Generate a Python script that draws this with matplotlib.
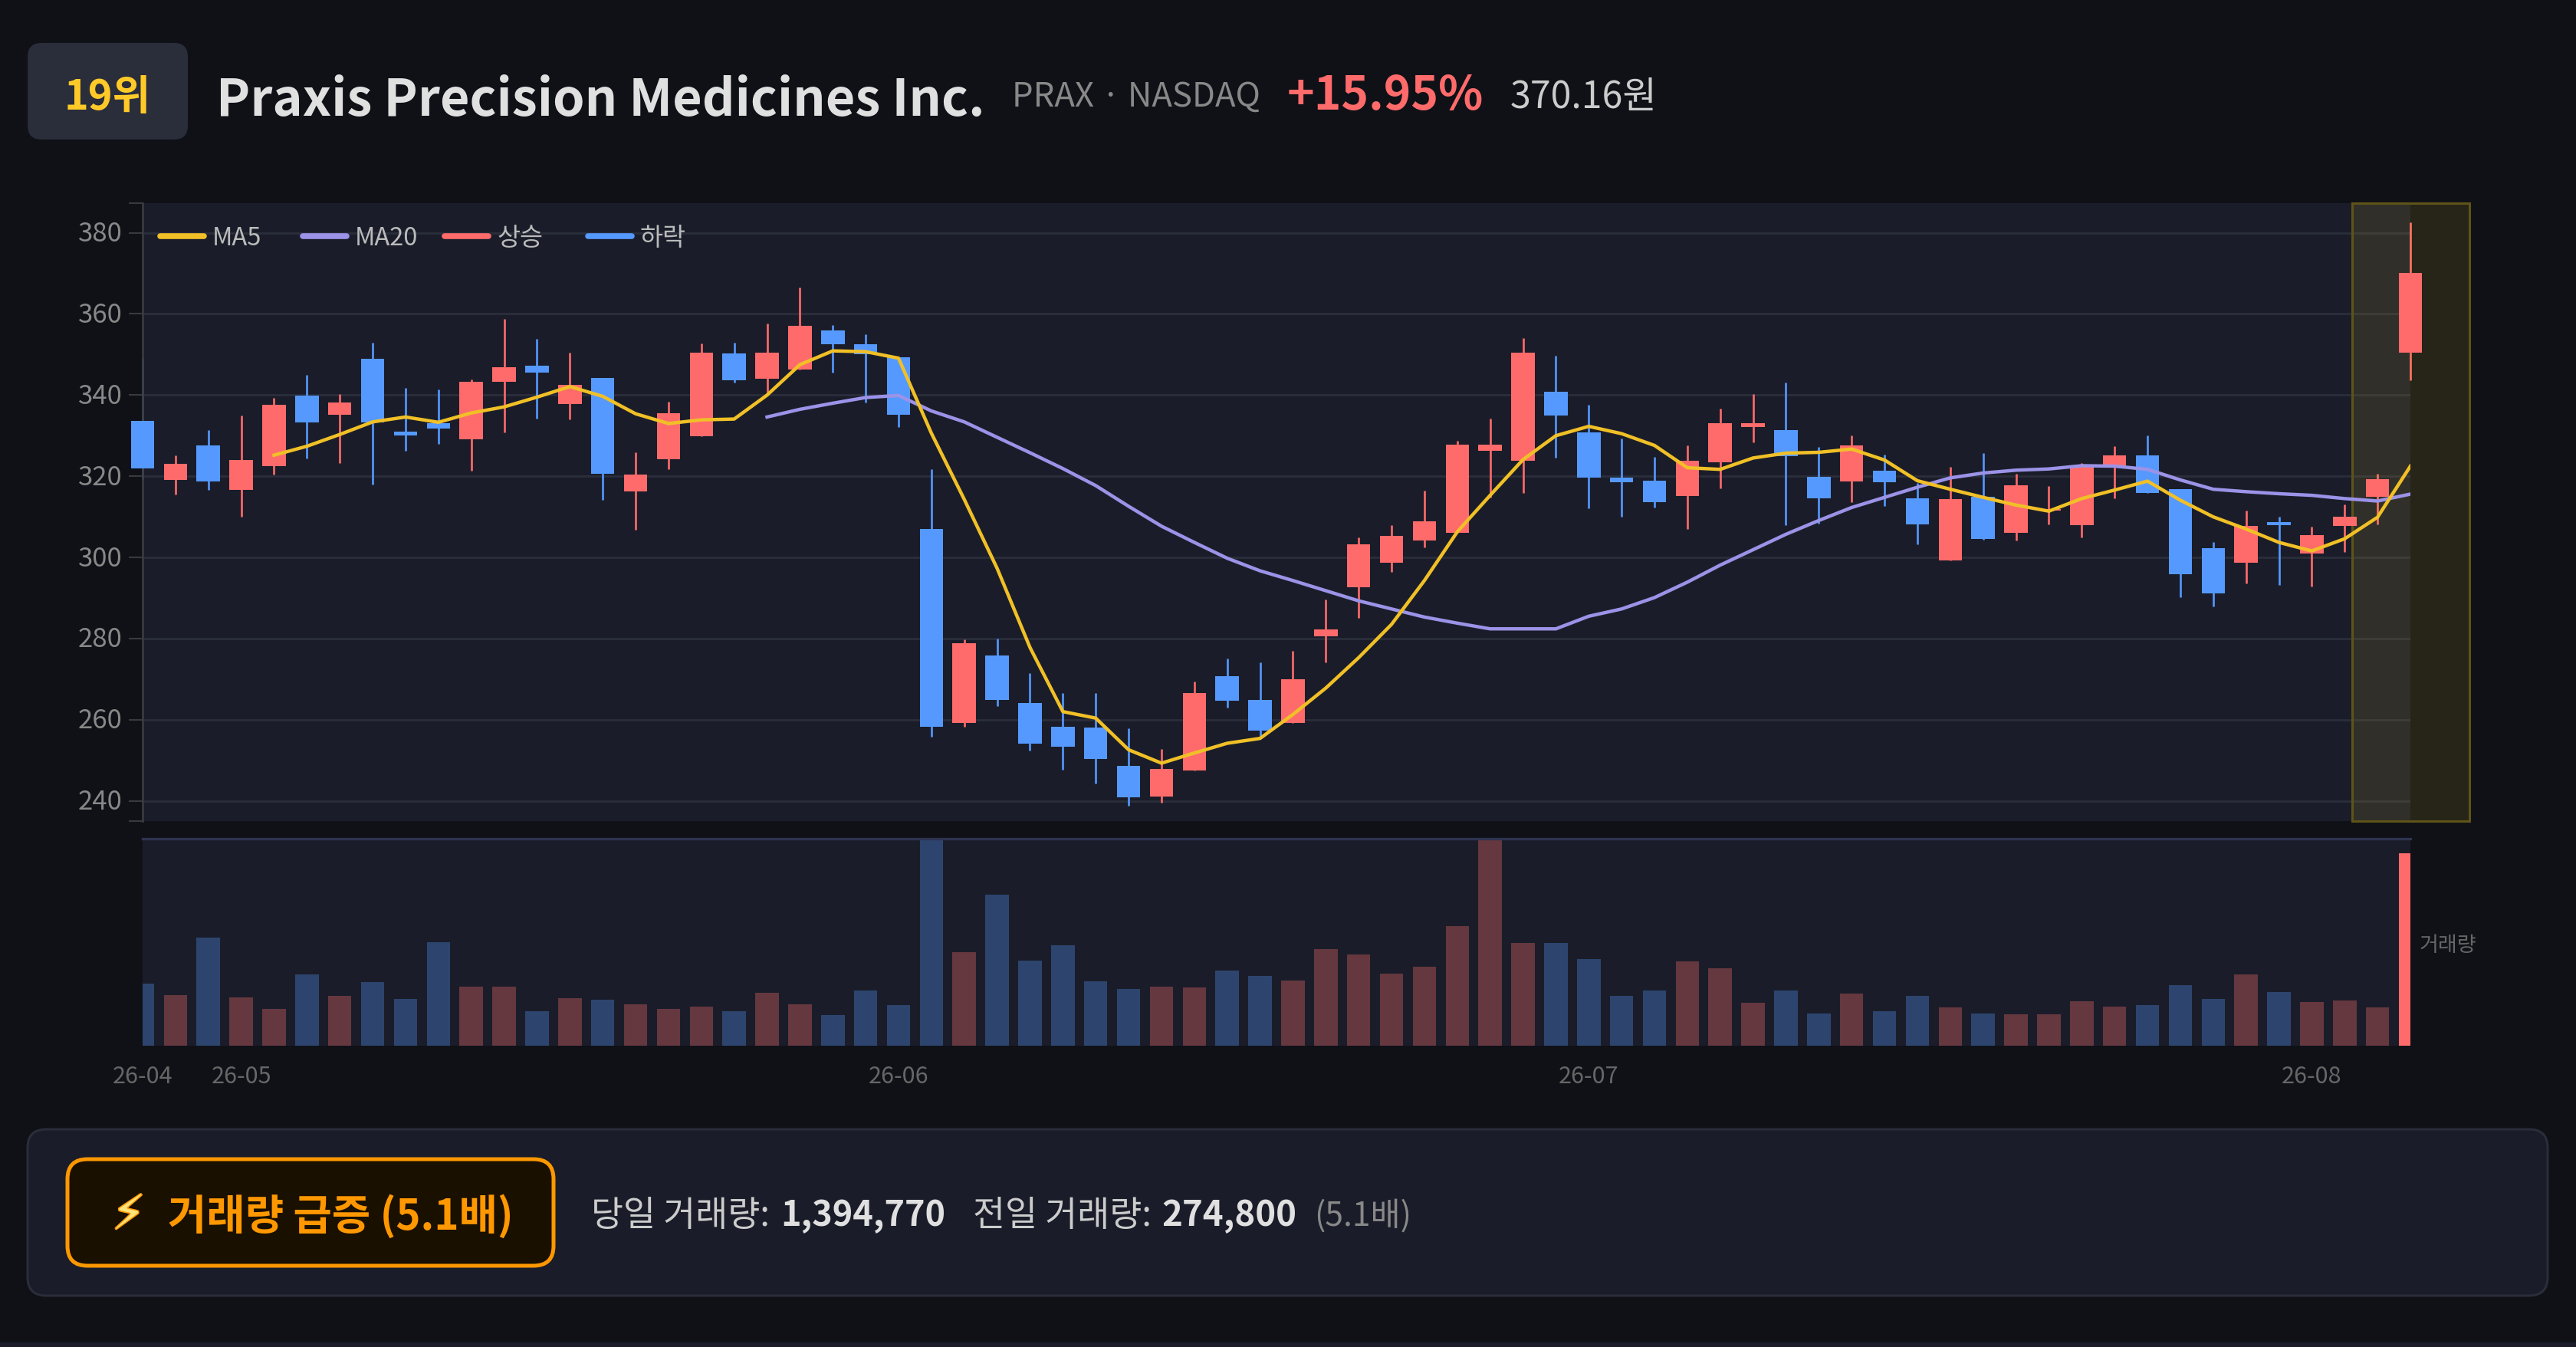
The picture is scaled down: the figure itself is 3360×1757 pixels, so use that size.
import matplotlib
matplotlib.use('Agg')
import matplotlib.pyplot as plt
import matplotlib.patheffects as pe
from matplotlib.patches import FancyBboxPatch
from matplotlib.lines import Line2D
from matplotlib.transforms import ScaledTranslation

plt.rcParams['font.family'] = ['Noto Sans CJK KR', 'DejaVu Sans']

W, H = 3360, 1758

# price data
opens = [333.7, 319.1, 327.6, 316.7, 322.5, 339.9, 335.2, 348.9, 331.0, 333.0,
         329.2, 343.2, 347.2, 337.8, 344.2, 316.2, 324.2, 329.9, 350.3, 344.0,
         346.3, 355.9, 352.6, 349.4, 307.0, 259.3, 275.8, 264.2, 258.3, 258.1,
         248.6, 241.1, 247.4, 270.8, 264.9, 259.2, 280.6, 292.6, 298.6, 304.1,
         306.0, 326.2, 323.9, 340.9, 330.8, 319.7, 319.0, 315.2, 323.5, 332.1,
         331.3, 319.9, 318.8, 321.4, 314.5, 299.2, 314.9, 306.1, 311.5, 308.0,
         322.3, 325.2, 316.9, 302.3, 298.6, 308.7, 301.0, 307.7, 315.0, 350.5]
closes = [322.0, 323.1, 318.8, 324.1, 337.6, 333.3, 338.1, 333.2, 330.0, 331.8,
          343.2, 346.8, 345.5, 342.5, 320.6, 320.5, 335.6, 350.5, 343.6, 350.5,
          357.1, 352.6, 350.0, 335.2, 258.2, 278.9, 264.9, 254.1, 253.3, 250.4,
          240.8, 247.9, 266.5, 264.6, 257.3, 270.0, 282.2, 303.3, 305.3, 308.9,
          327.8, 327.7, 350.5, 334.9, 319.7, 318.6, 313.6, 323.9, 333.0, 333.1,
          325.0, 314.6, 327.6, 318.5, 308.2, 314.4, 304.5, 317.8, 312.0, 322.6,
          325.2, 315.9, 295.9, 291.1, 307.7, 307.9, 305.4, 310.0, 319.2, 370.16]
highs = [349.0, 325.1, 331.4, 334.9, 339.3, 345.0, 340.2, 353.0, 341.7, 341.3,
         343.9, 358.8, 353.9, 350.4, 344.2, 325.9, 338.3, 352.7, 353.0, 357.6,
         366.5, 357.3, 355.0, 349.4, 321.7, 279.8, 280.0, 271.5, 266.6, 266.6,
         257.9, 252.8, 269.4, 275.1, 274.1, 277.0, 289.7, 305.0, 308.0, 316.5,
         328.7, 334.3, 354.1, 349.7, 337.7, 329.3, 324.7, 327.6, 336.6, 340.3,
         343.1, 327.2, 330.1, 325.4, 318.3, 322.3, 325.7, 320.6, 317.5, 323.2,
         327.5, 330.0, 316.9, 303.7, 311.6, 310.1, 307.6, 313.0, 320.6, 382.5]
lows = [319.3, 315.5, 316.6, 310.1, 320.5, 324.3, 323.3, 318.0, 326.2, 327.9,
        321.3, 330.8, 334.3, 334.0, 314.1, 306.8, 321.7, 329.9, 343.0, 340.0,
        346.3, 345.5, 338.1, 332.2, 255.8, 258.3, 263.3, 252.5, 247.7, 244.2,
        238.8, 239.5, 247.4, 263.0, 255.8, 259.2, 274.2, 285.0, 296.4, 302.5,
        306.0, 314.8, 315.8, 324.6, 312.1, 310.1, 312.3, 307.1, 317.1, 328.3,
        307.9, 308.3, 313.6, 312.7, 303.3, 299.2, 304.3, 304.1, 308.1, 305.0,
        314.6, 315.8, 290.2, 288.0, 293.5, 293.3, 292.9, 301.4, 308.1, 343.7]

ma5 = [325.2, 327.4, 330.3, 333.4, 334.6, 333.3, 335.6, 337.1, 339.5, 342.1,
       339.7, 335.4, 333.0, 333.9, 334.1, 340.0, 347.5, 350.9, 350.7, 349.1,
       330.6, 314.3, 297.3, 277.8, 262.0, 260.4, 252.6, 249.3, 251.8, 254.2,
       255.4, 261.3, 267.8, 275.3, 283.5, 294.3, 306.3, 315.3, 324.1, 330.0,
       332.3, 330.5, 327.6, 322.1, 321.7, 324.5, 325.7, 325.9, 326.7, 324.0,
       318.9, 316.8, 314.8, 312.9, 311.4, 314.5, 316.6, 318.8, 314.1, 310.0,
       307.0, 303.7, 301.6, 304.6, 309.9, 322.5]
ma20 = [334.6, 336.5, 338.0, 339.4, 339.9, 336.1, 333.4, 329.6, 325.8, 321.9,
        317.7, 312.6, 307.7, 303.7, 299.8, 296.7, 294.3, 291.8, 289.3, 287.3,
        285.3, 283.8, 282.4, 282.4, 282.4, 285.5, 287.3, 290.1, 293.9, 298.1,
        301.9, 305.7, 309.1, 312.3, 314.8, 317.3, 319.6, 320.8, 321.5, 321.8,
        322.6, 322.5, 321.7, 319.1, 316.8, 316.2, 315.7, 315.3, 314.5, 313.9,
        315.6]

volumes = [450000, 364000, 782000, 351000, 267000, 517000, 361000, 458000, 339000, 750000,
           426000, 430000, 250000, 344000, 332000, 299000, 267000, 285000, 250000, 383000,
           302000, 223000, 400000, 293000, 1600000, 678000, 1093000, 617000, 726000, 465000,
           409000, 428000, 424000, 544000, 504000, 474000, 698000, 659000, 520000, 572000,
           865000, 1600000, 745000, 745000, 628000, 359000, 402000, 609000, 559000, 312000,
           398000, 235000, 376000, 252000, 361000, 280000, 233000, 230000, 228000, 324000,
           282000, 294000, 438000, 339000, 517000, 386000, 314000, 327000, 274800, 1394770]

y_ticks = [240, 260, 280, 300, 320, 340, 360, 380]
month_idx = [0, 3, 23, 44, 66]
month_labels = ['26-04', '26-05', '26-06', '26-07', '26-08']
legend_labels = ['MA5', 'MA20', '상승', '하락']

BG = '#0f1117'
PANEL = '#1a1d29'
EDGE = '#2a2d3a'
UP = '#ff6b6b'
DOWN = '#5599ff'
UP_DIM = '#65373f'
DOWN_DIM = '#2d456e'
MA5_C = '#f1c027'
MA20_C = '#9b93e8'
ORANGE = '#ff9800'

fig = plt.figure(figsize=(W / 100, H / 100), dpi=100, facecolor=BG)


def px_axes(left, top, right, bottom, **kw):
    return fig.add_axes([left / W, 1 - bottom / H, (right - left) / W, (bottom - top) / H], **kw)


# page layer in pixel coordinates (header, alert box)
page = px_axes(0, 0, W, H)
page.set_xlim(0, W)
page.set_ylim(H, 0)
page.axis('off')
page.set_zorder(0)


def box(x0, y0, x1, y1, rad, face, edge, lw):
    page.add_patch(FancyBboxPatch((x0 + rad, y0 + rad), x1 - x0 - 2 * rad, y1 - y0 - 2 * rad,
                                  boxstyle=f'round,pad={rad},rounding_size={rad}',
                                  fc=face, ec=edge, lw=lw))


def label(x, y, s, px, color, weight='normal', ha='left'):
    return page.text(x, y, s, fontsize=px * 0.72, color=color, fontweight=weight,
                     ha=ha, va='baseline')


# header
box(36, 57, 245, 183, 18, EDGE, 'none', 0)
label(140, 143, '19위', 54, '#ffca28', 'bold', 'center')
label(282, 151, 'Praxis Precision Medicines Inc.', 66.6, '#e0e0e0', 'bold')
label(1320, 139, 'PRAX · NASDAQ', 43.7, '#888888')
label(1679, 143, '+15.95%', 60.5, UP, 'bold')
label(1970, 141, '370.16원', 48.3, '#cccccc')

# alert box
page.axhspan(1752, H, color='#1a1d29', lw=0)
box(36, 1474, 3323, 1691, 24, PANEL, EDGE, 2.2)
box(88, 1513, 722, 1652, 26, '#1a1000', ORANGE, 3.6)
bolt = label(146, 1604, '⚡', 62, '#ffe27a')
bolt.set_path_effects([pe.withStroke(linewidth=2.2, foreground=ORANGE)])
label(219, 1604, '거래량 급증 (5.1배)', 54.7, ORANGE, 'bold')
label(771, 1599, '당일 거래량:', 45.7, '#cccccc')
label(1018, 1599, '1,394,770', 45, '#e0e0e0', 'bold')
label(1269, 1599, '전일 거래량:', 45.7, '#cccccc')
label(1515, 1599, '274,800', 45.5, '#e0e0e0', 'bold')
label(1714, 1599, '(5.1배)', 42.5, '#888888')

# ── candlestick panel ──
ax = px_axes(186, 266, 3144, 1071.6, facecolor=PANEL)
ax.set_zorder(1)
ax.set_xlim(0, 69)
ax.set_ylim(235.1, 387.3)
for s in ['top', 'right', 'bottom']:
    ax.spines[s].set_visible(False)
ax.spines['left'].set_color('#3a3a3e')
ax.spines['left'].set_linewidth(2.0)
ax.spines['left'].set_zorder(2)
ax.set_xticks([])
ax.set_yticks(y_ticks)
ax.set_yticks([235.1, 387.3], minor=True)
ax.tick_params(axis='y', which='both', length=13, width=1.5, color='#3a3a3e',
               labelcolor='#888888', labelsize=25, pad=6)
ax.grid(True, axis='y', which='major', color=EDGE, lw=2.0, zorder=0)
ax.set_axisbelow(True)
# labels sit a touch above their grid lines
up_shift = ScaledTranslation(0, 3 / 100, fig.dpi_scale_trans)
for t in ax.get_yticklabels():
    t.set_transform(t.get_transform() + up_shift)

xs = list(range(len(closes)))
colors = [UP if c >= o else DOWN for o, c in zip(opens, closes)]
bar_w = 30.5 / 42.86

ax.vlines(xs, lows, highs, colors=colors, lw=1.9, zorder=1, clip_on=False)
ax.bar(xs, [abs(c - o) for o, c in zip(opens, closes)], bottom=[min(o, c) for o, c in zip(opens, closes)],
       width=bar_w, color=colors, zorder=3, clip_on=False)

ax.plot(xs[4:], ma5, color=MA5_C, lw=3.2, zorder=4, solid_joinstyle='round')
ax.plot(xs[19:], ma20, color=MA20_C, lw=3.2, zorder=3.5, solid_joinstyle='round')

# highlight on the latest session
ax.axvspan(67.22, 70.79, facecolor='#ffd32a', alpha=0.10, lw=0, zorder=1.5, clip_on=False)
ax.axvspan(67.22, 70.79, facecolor='none', edgecolor='#5e5418', lw=2.2, zorder=1.6, clip_on=False)

# legend drawn at the echarts positions
legend_colors = [MA5_C, MA20_C, UP, DOWN]
legend_x = [207, 393, 578, 765]
for name, col, lx in zip(legend_labels, legend_colors, legend_x):
    fig.add_artist(Line2D([(lx + 2) / W, (lx + 59) / W], [1 - 309 / H] * 2, color=col, lw=5.5,
                          solid_capstyle='round', zorder=6))
    fig.text((lx + 70) / W, 1 - 311 / H, name, fontsize=23.5, color='#bbbbbb', va='center', zorder=6)

# ── volume panel ──
vax = px_axes(186, 1094.7, 3144, 1365, facecolor=PANEL)
vax.set_zorder(1)
vax.set_xlim(0, 69)
vax.set_ylim(0, 1500000)
for s in ['left', 'right', 'bottom']:
    vax.spines[s].set_visible(False)
vax.spines['top'].set_color('#2d3350')
vax.spines['top'].set_linewidth(2.4)
vax.set_yticks([])
vax.set_xticks(month_idx)
vax.set_xticklabels(month_labels)
vax.tick_params(axis='x', length=0, labelcolor='#666666', labelsize=22, pad=17)

vol_colors = [UP_DIM if c >= o else DOWN_DIM for o, c in zip(opens, closes)]
vol_colors[-1] = UP
vax.bar(xs, volumes, width=bar_w, color=vol_colors, zorder=2)
fig.text(3156 / W, 1 - 1234 / H, '거래량', fontsize=19.5, color='#666666', va='center')

fig.savefig('out.png', dpi=100, facecolor=BG)
